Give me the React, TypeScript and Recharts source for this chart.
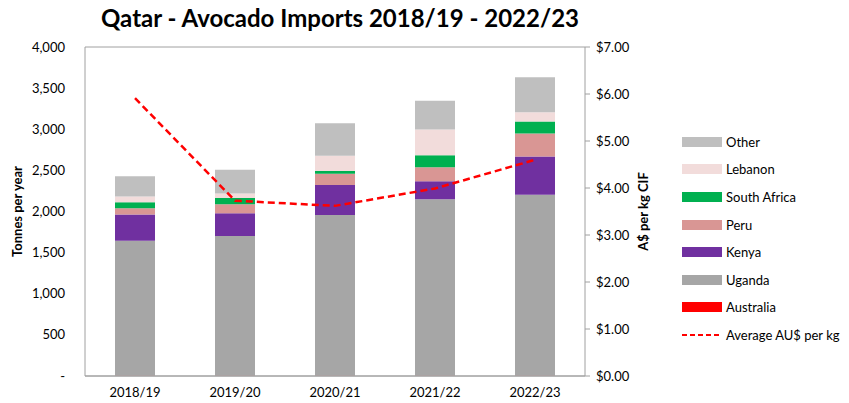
import React from "react";
import { ComposedChart, Bar, Line, XAxis, YAxis, CartesianGrid } from "recharts";

const categories = ["2018/19", "2019/20", "2020/21", "2021/22", "2022/23"];
const australia = [3, 3, 3, 3, 3];
const uganda = [1640, 1700, 1955, 2145, 2200];
const kenya = [320, 275, 365, 220, 465];
const peru = [75, 110, 135, 170, 280];
const southAfrica = [75, 75, 35, 145, 145];
const lebanon = [70, 55, 185, 315, 115];
const other = [245, 290, 395, 350, 425];
const avgPrice = [5.91, 3.73, 3.62, 3.99, 4.6];

const leftTicks = [0, 500, 1000, 1500, 2000, 2500, 3000, 3500, 4000];
const rightTicks = [0, 1, 2, 3, 4, 5, 6, 7];

const data = categories.map((c, i) => ({
  name: c,
  Australia: australia[i],
  Uganda: uganda[i],
  Kenya: kenya[i],
  Peru: peru[i],
  SouthAfrica: southAfrica[i],
  Lebanon: lebanon[i],
  Other: other[i],
  Avg: avgPrice[i],
}));

const series = [
  { key: "Australia", color: "#ff0000" },
  { key: "Uganda", color: "#a6a6a6" },
  { key: "Kenya", color: "#7030a0" },
  { key: "Peru", color: "#d99694" },
  { key: "SouthAfrica", color: "#00b050" },
  { key: "Lebanon", color: "#f2dcdb" },
  { key: "Other", color: "#bfbfbf" },
];

const legendItems = [
  { label: "Other", color: "#bfbfbf" },
  { label: "Lebanon", color: "#f2dcdb" },
  { label: "South Africa", color: "#00b050" },
  { label: "Peru", color: "#d99694" },
  { label: "Kenya", color: "#7030a0" },
  { label: "Uganda", color: "#a6a6a6" },
  { label: "Australia", color: "#ff0000" },
];

const FONT = "Lato, 'Open Sans', sans-serif";
const gridColor = "#a0a0a0";

export default function App() {
  return (
    <div style={{ position: "absolute", left: 0, top: 0, width: 849, height: 403, background: "#fff", fontFamily: FONT }}>
      <div style={{ position: "absolute", left: 0, top: 3, width: 680, textAlign: "center", fontSize: 24, fontWeight: 700, color: "#000" }}>
        Qatar - Avocado Imports 2018/19 - 2022/23
      </div>
      <ComposedChart
        width={849}
        height={403}
        data={data}
        margin={{ top: 47, right: 194, bottom: 0, left: 25 }}
        barSize={40}
      >
        <CartesianGrid vertical={false} stroke={gridColor} />
        <XAxis
          dataKey="name"
          height={27}
          tickLine={false}
          axisLine={{ stroke: gridColor }}
          tick={{ fontSize: 13, fill: "#000", fontFamily: FONT }}
          tickMargin={6}
        />
        <YAxis
          yAxisId="left"
          domain={[0, 4000]}
          ticks={leftTicks}
          width={60}
          tickLine={false}
          axisLine={{ stroke: gridColor }}
          tickMargin={14}
          tick={{ fontSize: 13, fill: "#000", fontFamily: FONT }}
          tickFormatter={(v: number) => (v === 0 ? "-" : v.toLocaleString("en-US"))}
          label={{ value: "Tonnes per year", angle: -90, position: "insideLeft", offset: -8, style: { fontSize: 13, fontWeight: 700, fill: "#000", fontFamily: FONT, textAnchor: "middle" } }}
        />
        <YAxis
          yAxisId="right"
          orientation="right"
          domain={[0, 7]}
          ticks={rightTicks}
          width={70}
          tickLine={{ stroke: gridColor }}
          tickSize={5}
          axisLine={{ stroke: gridColor }}
          tickMargin={6}
          tick={{ fontSize: 13, fill: "#000", fontFamily: FONT }}
          tickFormatter={(v: number) => `$${v.toFixed(2)}`}
          label={{ value: "A$ per kg CIF", angle: -90, position: "insideRight", offset: 12, style: { fontSize: 13, fontWeight: 700, fill: "#000", fontFamily: FONT, textAnchor: "middle" } }}
        />
        {series.map((s) => (
          <Bar key={s.key} dataKey={s.key} stackId="a" yAxisId="left" fill={s.color} isAnimationActive={false} />
        ))}
        <Line
          yAxisId="right"
          dataKey="Avg"
          type="linear"
          stroke="#ff0000"
          strokeWidth={2.5}
          strokeDasharray="7 4"
          dot={false}
          isAnimationActive={false}
        />
      </ComposedChart>
      <div style={{ position: "absolute", left: 682, top: 128, fontSize: 13, color: "#000" }}>
        {legendItems.map((it) => (
          <div key={it.label} style={{ display: "flex", alignItems: "center", height: 27.6 }}>
            <div style={{ width: 40, height: 10, background: it.color, marginRight: 4 }} />
            <span>{it.label}</span>
          </div>
        ))}
        <div style={{ display: "flex", alignItems: "center", height: 27.6 }}>
          <svg width={40} height={10} style={{ marginRight: 4 }}>
            <line x1={0} y1={5} x2={40} y2={5} stroke="#ff0000" strokeWidth={2} strokeDasharray="5 3" />
          </svg>
          <span>Average AU$ per kg</span>
        </div>
      </div>
    </div>
  );
}
